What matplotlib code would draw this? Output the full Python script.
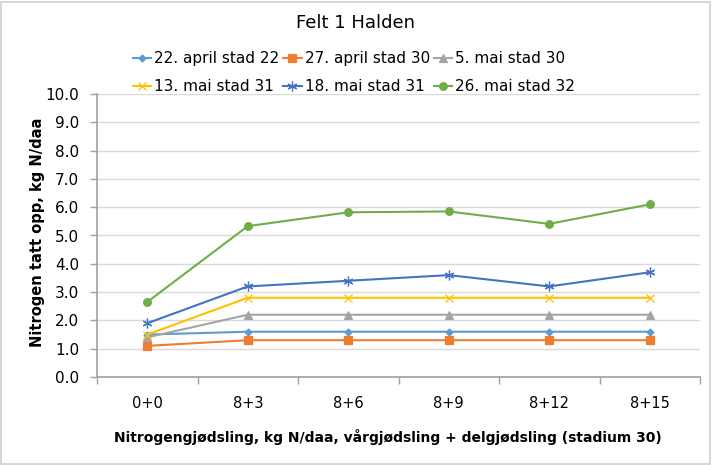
import matplotlib
matplotlib.use("Agg")
import matplotlib.pyplot as plt
from matplotlib.patches import Rectangle

plt.rcParams['font.family'] = ['DejaVu Sans']

categories = ["0+0", "8+3", "8+6", "8+9", "8+12", "8+15"]
series_names = ["22. april stad 22", "27. april stad 30", "5. mai stad 30",
                "13. mai stad 31", "18. mai stad 31", "26. mai stad 32"]
s_22apr = [1.5, 1.6, 1.6, 1.6, 1.6, 1.6]
s_27apr = [1.1, 1.3, 1.3, 1.3, 1.3, 1.3]
s_5mai = [1.4, 2.2, 2.2, 2.2, 2.2, 2.2]
s_13mai = [1.5, 2.8, 2.8, 2.8, 2.8, 2.8]
s_18mai = [1.9, 3.2, 3.4, 3.6, 3.2, 3.7]
s_26mai = [2.65, 5.33, 5.82, 5.85, 5.41, 6.1]
y_ticks = [0.0, 1.0, 2.0, 3.0, 4.0, 5.0, 6.0, 7.0, 8.0, 9.0, 10.0]

values = [s_22apr, s_27apr, s_5mai, s_13mai, s_18mai, s_26mai]
colors = ["#5B9BD5", "#ED7D31", "#A5A5A5", "#FFC000", "#4472C4", "#70AD47"]
markers = ["D", "s", "^", "x", (6, 2, 0), "o"]
msizes = [3.5, 5.5, 5.5, 6, 7, 5.5]

fig = plt.figure(figsize=(7.12, 4.65), dpi=100)
ax = fig.add_axes([97/712, 1-377/465, 603/712, 283/465])

x = list(range(len(categories)))
handles = []
for vals, name, c, m, ms in zip(values, series_names, colors, markers, msizes):
    h, = ax.plot(x, vals, color=c, lw=1.5, marker=m, markersize=ms,
                 markeredgecolor=c, markerfacecolor=c, markeredgewidth=0.9, label=name)
    handles.append(h)

ax.set_xlim(-0.5, len(categories) - 0.5)
ax.set_ylim(0, 10)
ax.set_yticks(y_ticks)
ax.set_yticklabels([f"{v:.1f}" for v in y_ticks])
ax.set_xticks(x)
ax.set_xticklabels(categories)
ax.set_xticks([i - 0.5 for i in range(len(categories) + 1)], minor=True)
ax.tick_params(axis='x', which='major', length=0, pad=14, labelsize=10.5)
ax.tick_params(axis='x', which='minor', length=5, color='#A0A0A0', width=1)
ax.tick_params(axis='y', which='major', length=5, color='#A0A0A0', width=1, labelsize=11, pad=8)
ax.grid(axis='y', color='#D9D9D9', lw=1)
ax.set_axisbelow(True)
for s in ['top', 'right']:
    ax.spines[s].set_visible(False)
for s in ['left', 'bottom']:
    ax.spines[s].set_color('#A0A0A0')
    ax.spines[s].set_linewidth(1.2)

fig.text(38/712, 1 - 232/465, "Nitrogen tatt opp, kg N/daa", rotation=90,
         ha='center', va='center', fontsize=10.5, fontweight='bold')
fig.text(388/712, 1 - 437/465,
         "Nitrogengjødsling, kg N/daa, vårgjødsling + delgjødsling (stadium 30)",
         ha='center', va='center', fontsize=10, fontweight='bold')

fig.text(0.5, 1 - 23/465, "Felt 1 Halden", ha='center', va='center', fontsize=13)

order = [0, 3, 1, 4, 2, 5]
leg = fig.legend([handles[i] for i in order], [series_names[i] for i in order],
                 loc='center', bbox_to_anchor=(354/712, 1 - 72.5/465), ncol=3, frameon=False,
                 fontsize=11, handlelength=1.2, columnspacing=0.25, handletextpad=0.2,
                 labelspacing=0.85, borderpad=0)

fig.patches.append(Rectangle((0.002, 0.003), 0.995, 0.993, transform=fig.transFigure,
                             fill=False, edgecolor='#D0D0D0', lw=1.2))

fig.savefig("out.png", dpi=100)
